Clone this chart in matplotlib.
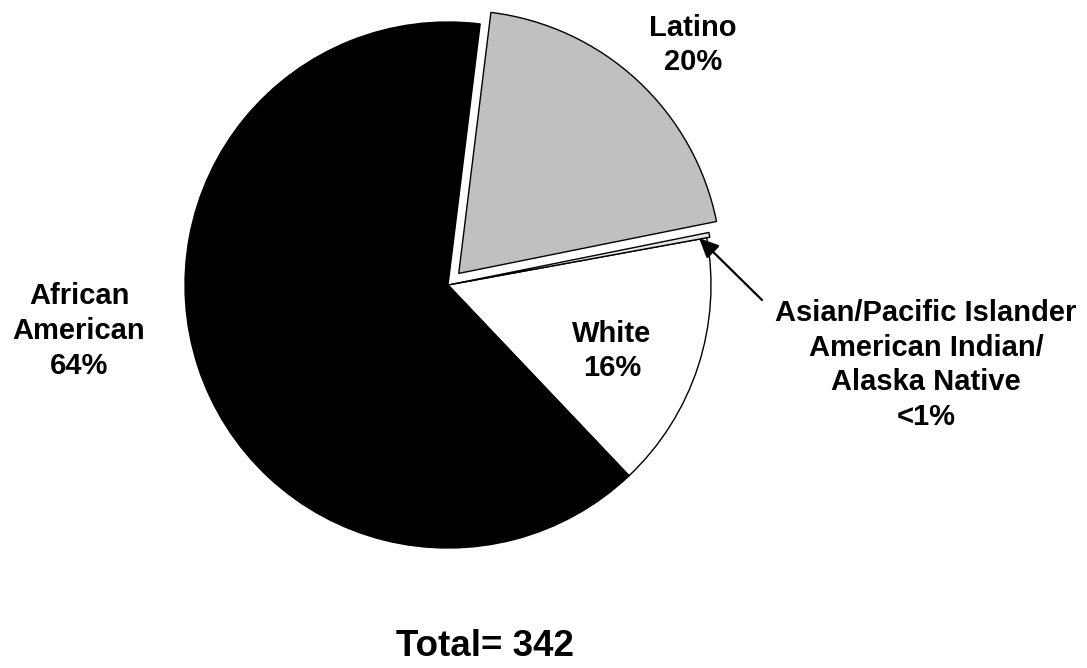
import matplotlib
matplotlib.use("Agg")
import matplotlib.pyplot as plt

plt.rcParams['font.family'] = ['Liberation Sans', 'DejaVu Sans']

categories = ["White", "Asian/Pacific Islander\nAmerican Indian/\nAlaska Native", "Latino", "African American"]
counts = [54, 1, 68, 219]
pct_labels = ["16%", "<1%", "20%", "64%"]
colors = ["#FFFFFF", "#E6E6E6", "#C0C0C0", "#000000"]
explode = [0.0, 0.012, 0.06, 0.0]   # fraction of radius
total = 342

W, H = 1087, 668
fig = plt.figure(figsize=(W / 100, H / 100), dpi=100)
ax = fig.add_axes([0, 0, 1, 1])
ax.set_xlim(0, W)
ax.set_ylim(0, H)
ax.set_aspect('equal')
ax.axis('off')

cx, cy, r = 448, H - 285, 263
wedges, _ = ax.pie(counts, colors=colors, explode=[e * r for e in explode],
                   startangle=-46.5, counterclock=True, center=(cx, cy), radius=r,
                   wedgeprops=dict(edgecolor='black', linewidth=1.0))
ax.set_xlim(0, W)
ax.set_ylim(0, H)

fs = 21
kw = dict(ha='center', va='center', fontsize=fs, fontweight='bold', linespacing=1.3)
ax.text(693, H - 45, "Latino\n" + pct_labels[2], **kw)
ax.text(79, H - 331, "African\nAmerican\n" + pct_labels[3], **kw)
ax.text(612, H - 351, "White\n" + pct_labels[0], **kw)
ax.text(926, H - 365, categories[1] + "\n" + pct_labels[1], **kw)
ax.text(485, H - 647, f"Total= {total}", ha='center', va='center', fontsize=26.5, fontweight='bold')

ax.annotate("", xy=(699, H - 238), xytext=(762, H - 300),
            arrowprops=dict(arrowstyle='-|>,head_length=1.2,head_width=0.55',
                            color='black', lw=1.6, shrinkA=0, shrinkB=0))

fig.savefig("out.png", dpi=100)
